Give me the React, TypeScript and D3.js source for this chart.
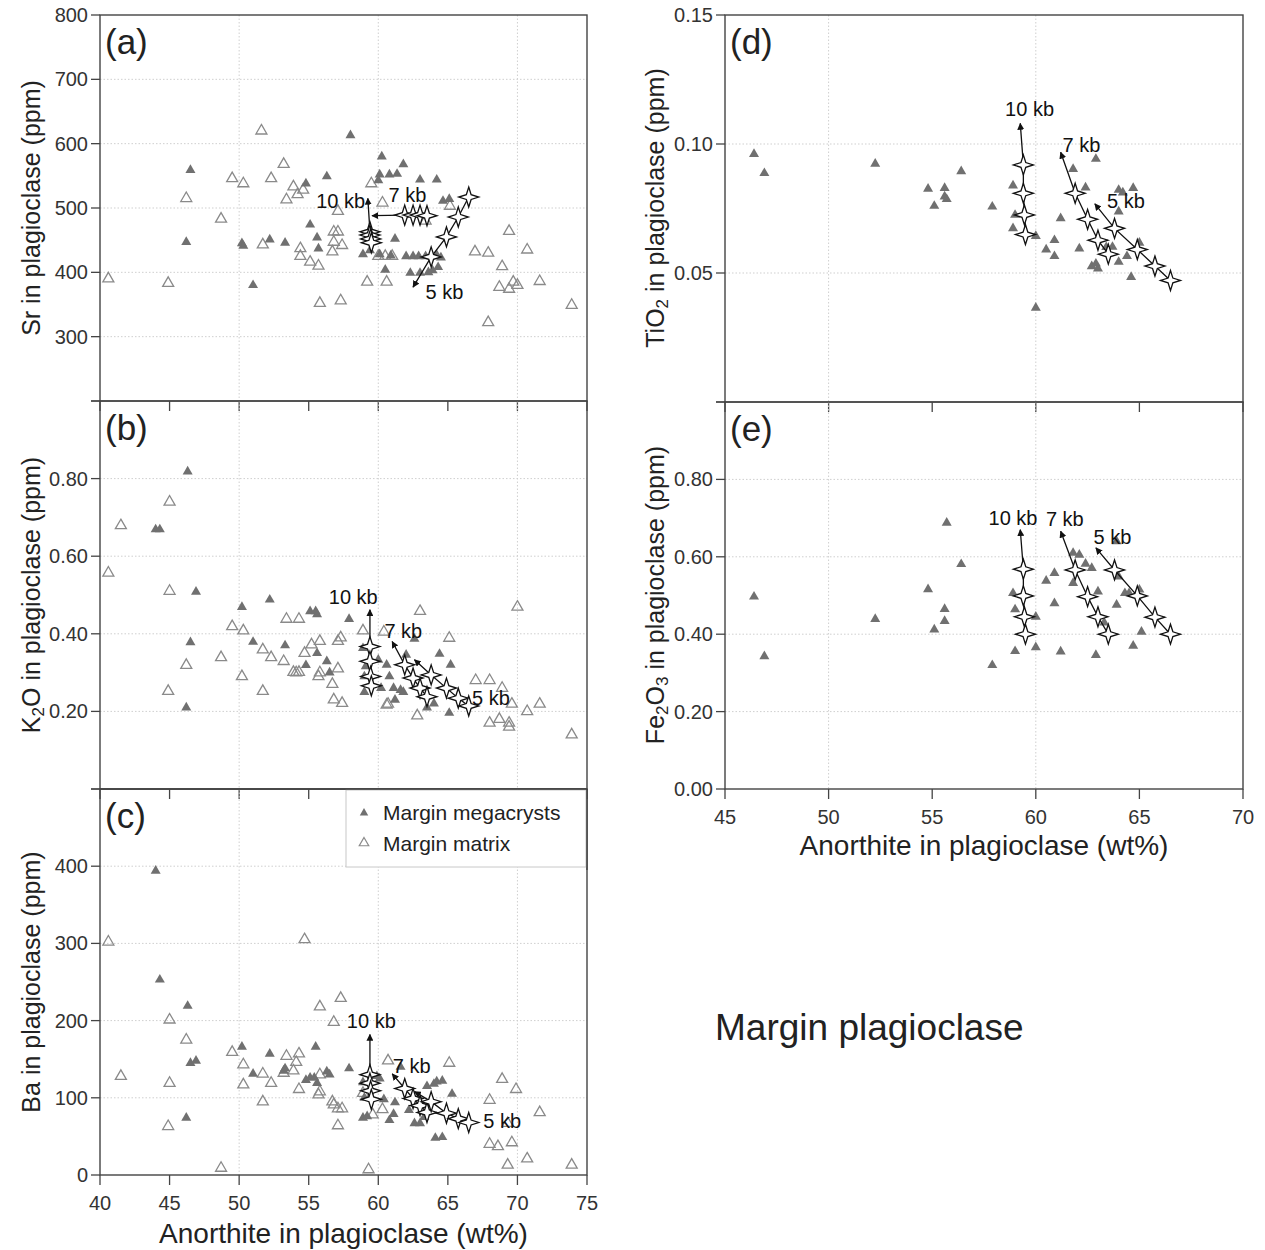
import React from 'react';
import * as d3 from 'd3';

type Pt = [number, number];

// ---------- data (Anorthite wt%, value) ----------
const srMegacrysts: Pt[] = [[46.5,559],[46.2,447],[51.0,380],[50.2,445],[50.3,441],[52.2,451],[53.3,446],[54.8,538],[56.3,549],[55.1,474],[55.6,454],[55.7,437],[58.0,613],[58.9,428],[59.4,434],[60.25,580],[60.1,552],[60.0,543],[60.8,552],[61.35,553],[61.8,568],[63.0,544],[64.2,544],[64.65,511],[65.1,514],[61.2,452],[60.5,404],[60.1,428],[60.9,426],[62.0,425],[62.5,425],[62.9,425],[63.4,425],[62.3,399],[63.0,399],[63.6,400],[63.9,403],[64.3,408],[64.5,423],[64.2,427]];
const srMatrix: Pt[] = [[40.6,390],[44.9,383],[46.2,515],[48.7,483],[49.5,546],[50.3,538],[51.6,620],[51.7,443],[53.2,568],[52.3,546],[53.9,533],[53.4,513],[54.2,521],[54.6,528],[54.4,437],[54.4,425],[55.1,416],[55.7,410],[55.8,352],[57.3,356],[56.8,463],[57.1,463],[57.1,495],[56.8,447],[57.4,442],[56.7,432],[59.5,538],[60.3,508],[59.2,385],[60.6,385],[60.0,425],[60.5,425],[61.0,425],[63.4,480],[65.15,503],[66.95,432],[67.9,430],[67.9,322],[68.9,409],[69.4,464],[68.7,377],[69.4,374],[69.7,385],[70.0,380],[70.7,435],[71.6,386],[73.9,349]];

const k2oMegacrysts: Pt[] = [[46.3,0.818],[44.0,0.669],[44.3,0.669],[46.9,0.508],[46.5,0.378],[46.2,0.21],[50.2,0.469],[51.0,0.379],[52.2,0.488],[53.3,0.370],[54.8,0.319],[55.1,0.458],[55.5,0.458],[55.6,0.45],[55.6,0.35],[56.3,0.329],[56.5,0.30],[57.9,0.438],[58.9,0.363],[59.1,0.316],[59.0,0.29],[60.0,0.333],[60.6,0.32],[60.2,0.26],[61.1,0.26],[61.6,0.255],[60.8,0.29],[62.6,0.387],[64.4,0.348],[65.2,0.32],[65.1,0.196],[63.5,0.21],[64.0,0.22],[61.2,0.23],[62.0,0.346],[61.8,0.25],[59.0,0.25]];
const k2oMatrix: Pt[] = [[40.6,0.557],[41.5,0.679],[45.0,0.740],[45.0,0.510],[46.2,0.319],[44.9,0.252],[48.7,0.339],[49.5,0.419],[50.3,0.408],[50.2,0.290],[51.7,0.252],[51.7,0.359],[52.3,0.339],[53.2,0.329],[53.4,0.438],[54.3,0.438],[53.9,0.301],[54.3,0.301],[54.1,0.30],[54.7,0.350],[55.2,0.372],[55.8,0.381],[55.8,0.30],[55.7,0.29],[56.7,0.270],[56.8,0.230],[57.4,0.221],[57.1,0.310],[57.1,0.381],[57.3,0.39],[58.9,0.408],[60.4,0.405],[60.7,0.219],[63.0,0.458],[62.8,0.189],[65.1,0.389],[67.0,0.280],[68.0,0.280],[68.9,0.26],[68.0,0.17],[68.7,0.18],[69.4,0.17],[69.4,0.16],[69.6,0.219],[70.0,0.469],[70.7,0.20],[71.6,0.219],[73.9,0.14],[60.6,0.217]];

const baMegacrysts: Pt[] = [[44.0,394],[44.3,253],[46.3,219],[46.5,145],[46.9,148],[46.2,74],[50.2,166],[51.0,131],[52.2,157],[53.2,135],[53.3,138],[54.8,123],[55.1,126],[55.4,126],[55.6,119],[55.5,166],[56.3,134],[56.5,130],[57.9,138],[58.9,74],[59.2,76],[60.8,71],[61.1,79],[61.2,94],[60.4,98],[64.1,48],[64.6,49],[65.3,105],[63.5,115],[64.0,118],[64.2,121],[64.6,122],[62.6,67],[63.0,67],[60.1,125],[59.9,128],[61.6,140],[62.2,84],[63.3,75],[58.9,120],[59.0,100]];
const baMatrix: Pt[] = [[40.6,302],[41.5,128],[45.0,201],[46.2,175],[45.0,119],[44.9,63],[48.7,9],[49.5,159],[50.3,143],[50.3,117],[51.7,131],[51.7,95],[52.3,119],[53.4,154],[54.3,157],[54.1,146],[53.9,135],[53.2,132],[54.3,111],[54.7,305],[55.8,218],[57.3,229],[56.8,198],[55.8,130],[55.8,108],[55.7,104],[56.7,95],[56.8,91],[57.1,86],[57.4,86],[57.1,64],[59.3,7],[60.7,148],[65.1,145],[59.6,78],[60.3,85],[68.9,124],[68.0,97],[69.9,111],[71.6,81],[68.0,40],[68.6,37],[69.6,42],[69.3,13],[70.7,21],[73.9,13],[69.3,67],[58.9,106]];

const tio2Megacrysts: Pt[] = [[46.4,0.0961],[46.9,0.0887],[52.25,0.0923],[54.8,0.0826],[55.6,0.0829],[55.1,0.0760],[55.6,0.0796],[55.7,0.0786],[56.4,0.0894],[57.9,0.0757],[58.9,0.0839],[59.0,0.0725],[58.9,0.0673],[60.0,0.0643],[60.0,0.0365],[60.5,0.0591],[60.9,0.0627],[60.9,0.0565],[61.2,0.0712],[61.8,0.0903],[62.1,0.0595],[62.9,0.0942],[62.4,0.0831],[62.7,0.0526],[62.9,0.0536],[63.0,0.0517],[63.7,0.0601],[64.0,0.0543],[64.0,0.0822],[64.2,0.0812],[64.7,0.0829],[64.0,0.0738],[64.4,0.0565],[64.6,0.0484],[65.0,0.0617],[63.4,0.0600]];

const fe2o3Megacrysts: Pt[] = [[46.4,0.497],[46.9,0.343],[52.25,0.439],[54.8,0.516],[55.1,0.412],[55.6,0.465],[55.6,0.434],[55.7,0.688],[56.4,0.581],[57.9,0.32],[58.9,0.506],[59.0,0.464],[59.0,0.356],[60.0,0.445],[60.0,0.366],[60.5,0.538],[60.9,0.558],[60.9,0.48],[61.2,0.355],[61.8,0.61],[62.1,0.605],[61.8,0.532],[62.4,0.582],[62.7,0.571],[63.0,0.51],[62.9,0.346],[63.3,0.43],[63.9,0.64],[63.9,0.476],[64.0,0.549],[64.3,0.506],[64.5,0.506],[64.7,0.37],[65.1,0.406],[65.0,0.515]];

// model paths (An of the four steps per pressure)
const an10kb = [59.4, 59.4, 59.45, 59.5];
const an7kb = [61.9, 62.5, 63.0, 63.5];
const an5kb = [63.8, 64.9, 65.75, 66.5];

const sr10kb = [463, 458, 452, 446];
const sr7kb = [489, 489, 489, 488];
const sr5kb = [424, 455, 486, 517];
const k2o10kb = [0.367, 0.329, 0.29, 0.266];
const k2o7kb = [0.32, 0.286, 0.26, 0.238];
const k2o5kb = [0.294, 0.26, 0.234, 0.214];
const ba10kb = [130, 119, 109, 98];
const ba7kb = [112, 99, 90, 81];
const ba5kb = [95, 80, 73, 68];
const tio210kb = [0.0919, 0.0809, 0.0725, 0.0649];
const tio27kb = [0.0809, 0.0708, 0.0627, 0.0573];
const tio25kb = [0.0673, 0.0591, 0.0527, 0.0471];
const fe2o310kb = [0.568, 0.499, 0.445, 0.40];
const fe2o37kb = [0.566, 0.497, 0.445, 0.40];
const fe2o35kb = [0.566, 0.499, 0.444, 0.40];

// arrow tips and label anchors per panel [10kb, 7kb, 5kb]
const srTips: Pt[] = [[59.25, 515], [59.55, 488], [62.5, 377]];
const srLabels: Pt[] = [[57.3, 511], [62.1, 520], [64.75, 370]];
const k2oTips: Pt[] = [[59.4, 0.462], [61.0, 0.38], [62.6, 0.333]];
const k2oLabels: Pt[] = [[58.2, 0.495], [61.8, 0.407], [68.1, 0.235]];
const baTips: Pt[] = [[59.4, 182], [61.0, 131], [62.6, 108]];
const baLabels: Pt[] = [[59.5, 199], [62.4, 141], [68.9, 70]];
const tio2Tips: Pt[] = [[59.25, 0.108], [61.2, 0.0968], [62.85, 0.0768]];
const tio2Labels: Pt[] = [[59.7, 0.1135], [62.2, 0.0998], [64.35, 0.078]];
const fe2o3Tips: Pt[] = [[59.25, 0.67], [61.2, 0.666], [62.9, 0.623]];
const fe2o3Labels: Pt[] = [[58.9, 0.70], [61.4, 0.697], [63.7, 0.65]];

const pressureNames = ['10 kb', '7 kb', '5 kb'];

const leftXTicks = [40, 45, 50, 55, 60, 65, 70, 75];
const rightXTicks = [45, 50, 55, 60, 65, 70];
const leftGridX = [50, 60, 70];
const rightGridX = [50, 60];

const srTicks = [300, 400, 500, 600, 700, 800];
const k2oTicks = [0.2, 0.4, 0.6, 0.8];
const baTicks = [0, 100, 200, 300, 400];
const tio2Ticks = [0.05, 0.10, 0.15];
const fe2o3Ticks = [0, 0.2, 0.4, 0.6, 0.8];

const legendNames = ['Margin megacrysts', 'Margin matrix'];

// ---------- rendering ----------
const FONT = '"Liberation Sans", Arial, Helvetica, sans-serif';
const FILL_GRAY = '#707070';
const OPEN_GRAY = '#8a8a8a';
const AXIS = '#444';
const TICK_FS = 20;

function triPath(s: number) {
  const h = (s * Math.sqrt(3)) / 2;
  return `M0,${(-h * 2) / 3}L${s / 2},${h / 3}L${-s / 2},${h / 3}Z`;
}
function starPath(R: number, r: number) {
  let p = '';
  for (let i = 0; i < 8; i++) {
    const a = (i * Math.PI) / 4 - Math.PI / 2;
    const rad = i % 2 === 0 ? R : r;
    p += (i ? 'L' : 'M') + (rad * Math.cos(a)).toFixed(2) + ',' + (rad * Math.sin(a)).toFixed(2);
  }
  return p + 'Z';
}
const FILLED_TRI = triPath(10);
const OPEN_TRI = triPath(11);
const STAR = starPath(10, 3.4);

type Track = { an: number[]; vals: number[]; tip: Pt; label: Pt; name: string };

function makeTracks(vals: number[][], tips: Pt[], labels: Pt[]): Track[] {
  const ans = [an10kb, an7kb, an5kb];
  return vals.map((v, i) => ({ an: ans[i], vals: v, tip: tips[i], label: labels[i], name: pressureNames[i] }));
}

type PanelProps = {
  x0: number; x1: number; y0: number; y1: number;
  xDomain: [number, number]; yDomain: [number, number];
  xTicks: number[]; showXLabels: boolean; gridX: number[];
  yTicks: number[]; yLabels: number[]; yFmt: (v: number) => string;
  letter: string;
  mega: Pt[]; matrix?: Pt[]; tracks: Track[];
};

function Panel(p: PanelProps) {
  const x = d3.scaleLinear().domain(p.xDomain).range([p.x0, p.x1]);
  const y = d3.scaleLinear().domain(p.yDomain).range([p.y1, p.y0]);
  const line = d3.line<Pt>().x((d) => x(d[0])).y((d) => y(d[1]));
  const clipId = 'clip' + p.letter;
  return (
    <g>
      <defs>
        <clipPath id={clipId}>
          <rect x={p.x0} y={p.y0} width={p.x1 - p.x0} height={p.y1 - p.y0} />
        </clipPath>
      </defs>
      {p.gridX.map((v) => (
        <line key={'gx' + v} x1={x(v)} x2={x(v)} y1={p.y0} y2={p.y1} stroke="#cfcfcf" strokeWidth={1} strokeDasharray="1.5,2" />
      ))}
      {p.yLabels.filter((v) => v > p.yDomain[0] && v < p.yDomain[1]).map((v) => (
        <line key={'gy' + v} x1={p.x0} x2={p.x1} y1={y(v)} y2={y(v)} stroke="#cfcfcf" strokeWidth={1} strokeDasharray="1.5,2" />
      ))}
      <g clipPath={`url(#${clipId})`}>
        {(p.matrix || []).map((d, i) => (
          <path key={'o' + i} d={OPEN_TRI} transform={`translate(${x(d[0])},${y(d[1])})`} fill="none" stroke={OPEN_GRAY} strokeWidth={1.3} />
        ))}
        {p.mega.map((d, i) => (
          <path key={'f' + i} d={FILLED_TRI} transform={`translate(${x(d[0])},${y(d[1])})`} fill={FILL_GRAY} />
        ))}
        {p.tracks.map((t, i) => {
          const pts: Pt[] = t.an.map((a, j) => [a, t.vals[j]] as Pt).reverse();
          pts.push(t.tip);
          return (
            <g key={'t' + i}>
              <path d={line(pts) || ''} fill="none" stroke="#111" strokeWidth={1.3} markerEnd="url(#arrowHead)" />
              {t.an.map((a, j) => (
                <path key={j} d={STAR} transform={`translate(${x(a)},${y(t.vals[j])})`} fill="#fff" stroke="#111" strokeWidth={1.3} />
              ))}
            </g>
          );
        })}
        {p.tracks.map((t, i) => (
          <text key={'l' + i} x={x(t.label[0])} y={y(t.label[1])} fontSize={20} fill="#111" textAnchor="middle" dominantBaseline="central">{t.name}</text>
        ))}
      </g>
      <rect x={p.x0} y={p.y0} width={p.x1 - p.x0} height={p.y1 - p.y0} fill="none" stroke={AXIS} strokeWidth={1.4} />
      {p.yTicks.map((v) => (
        <line key={'yt' + v} x1={p.x0 - 9} x2={p.x0} y1={y(v)} y2={y(v)} stroke={AXIS} strokeWidth={1.3} />
      ))}
      {p.yLabels.map((v) => (
        <text key={'yl' + v} x={p.x0 - 12} y={y(v)} fontSize={TICK_FS} fill="#333" textAnchor="end" dominantBaseline="central">{p.yFmt(v)}</text>
      ))}
      {p.xTicks.map((v) => (
        <line key={'xt' + v} x1={x(v)} x2={x(v)} y1={p.y1} y2={p.y1 + 10} stroke={AXIS} strokeWidth={1.3} />
      ))}
      {p.showXLabels && p.xTicks.map((v) => (
        <text key={'xl' + v} x={x(v)} y={p.y1 + 35} fontSize={TICK_FS} fill="#333" textAnchor="middle">{v}</text>
      ))}
      <text x={p.x0 + 5} y={p.y0 + 39} fontSize={35} fill="#222">{'(' + p.letter + ')'}</text>
    </g>
  );
}

function YTitle({ x, y, parts }: { x: number; y: number; parts: [string, boolean][] }) {
  return (
    <text transform={`translate(${x},${y}) rotate(-90)`} textAnchor="middle" fontSize={25} fill="#222">
      {parts.map(([s, sub], i) => (
        <tspan key={i} fontSize={sub ? 17 : 25} dy={sub ? 4 : i > 0 && parts[i - 1][1] ? -4 : 0}>{s}</tspan>
      ))}
    </text>
  );
}

export default function App() {
  const L = { x0: 100, x1: 587 };
  const R = { x0: 725, x1: 1243 };
  const fmt0 = (v: number) => String(v);
  const fmt2 = (v: number) => v.toFixed(2);
  const legendX = 346;
  return (
    <svg width={1265} height={1250} style={{ position: 'absolute', left: 0, top: 0, display: 'block', fontFamily: FONT, background: '#fff' }}>
      <defs>
        <marker id="arrowHead" viewBox="0 0 10 10" refX="9" refY="5" markerWidth="7" markerHeight="7" markerUnits="userSpaceOnUse" orient="auto">
          <path d="M0,0L10,5L0,10Z" fill="#111" />
        </marker>
      </defs>
      <rect x={0} y={0} width={1265} height={1250} fill="#fff" />
      <Panel {...L} y0={15} y1={401} xDomain={[40, 75]} yDomain={[200, 800]} xTicks={leftXTicks} showXLabels={false} gridX={leftGridX}
        yTicks={[200, ...srTicks]} yLabels={srTicks} yFmt={fmt0} letter="a" mega={srMegacrysts} matrix={srMatrix}
        tracks={makeTracks([sr10kb, sr7kb, sr5kb], srTips, srLabels)} />
      <Panel {...L} y0={401} y1={789} xDomain={[40, 75]} yDomain={[0, 1.0]} xTicks={leftXTicks} showXLabels={false} gridX={leftGridX}
        yTicks={[0, ...k2oTicks, 1.0]} yLabels={k2oTicks} yFmt={fmt2} letter="b" mega={k2oMegacrysts} matrix={k2oMatrix}
        tracks={makeTracks([k2o10kb, k2o7kb, k2o5kb], k2oTips, k2oLabels)} />
      <Panel {...L} y0={789} y1={1175} xDomain={[40, 75]} yDomain={[0, 500]} xTicks={leftXTicks} showXLabels={true} gridX={leftGridX}
        yTicks={[...baTicks, 500]} yLabels={baTicks} yFmt={fmt0} letter="c" mega={baMegacrysts} matrix={baMatrix}
        tracks={makeTracks([ba10kb, ba7kb, ba5kb], baTips, baLabels)} />
      <Panel {...R} y0={15} y1={402} xDomain={[45, 70]} yDomain={[0, 0.15]} xTicks={rightXTicks} showXLabels={false} gridX={rightGridX}
        yTicks={[0, ...tio2Ticks]} yLabels={tio2Ticks} yFmt={fmt2} letter="d" mega={tio2Megacrysts}
        tracks={makeTracks([tio210kb, tio27kb, tio25kb], tio2Tips, tio2Labels)} />
      <Panel {...R} y0={402} y1={789} xDomain={[45, 70]} yDomain={[0, 1.0]} xTicks={rightXTicks} showXLabels={true} gridX={rightGridX}
        yTicks={[...fe2o3Ticks, 1.0]} yLabels={fe2o3Ticks} yFmt={fmt2} letter="e" mega={fe2o3Megacrysts}
        tracks={makeTracks([fe2o310kb, fe2o37kb, fe2o35kb], fe2o3Tips, fe2o3Labels)} />

      {/* legend */}
      <rect x={legendX} y={790} width={L.x1 - legendX - 1} height={77} fill="#fff" stroke="#c8c8c8" strokeWidth={1} />
      <line x1={L.x0} x2={L.x1} y1={789} y2={789} stroke={AXIS} strokeWidth={1.4} />
      <line x1={L.x1} x2={L.x1} y1={789} y2={870} stroke={AXIS} strokeWidth={1.4} />
      <path d={triPath(8.5)} transform="translate(364,813)" fill={FILL_GRAY} />
      <text x={383} y={820} fontSize={21} fill="#222">{legendNames[0]}</text>
      <path d={triPath(9.5)} transform="translate(364,843)" fill="none" stroke={OPEN_GRAY} strokeWidth={1.2} />
      <text x={383} y={851} fontSize={21} fill="#222">{legendNames[1]}</text>

      {/* axis titles */}
      <text x={(L.x0 + L.x1) / 2} y={1243} fontSize={28} fill="#222" textAnchor="middle">Anorthite in plagioclase (wt%)</text>
      <text x={(R.x0 + R.x1) / 2} y={855} fontSize={28} fill="#222" textAnchor="middle">Anorthite in plagioclase (wt%)</text>
      <YTitle x={40} y={208} parts={[['Sr in plagioclase (ppm)', false]]} />
      <YTitle x={40} y={595} parts={[['K', false], ['2', true], ['O in plagioclase (ppm)', false]]} />
      <YTitle x={40} y={982} parts={[['Ba in plagioclase (ppm)', false]]} />
      <YTitle x={664} y={208} parts={[['TiO', false], ['2', true], [' in plagioclase (ppm)', false]]} />
      <YTitle x={664} y={595} parts={[['Fe', false], ['2', true], ['O', false], ['3', true], [' in plagioclase (ppm)', false]]} />

      <text x={715} y={1040} fontSize={37} fill="#222">Margin plagioclase</text>
    </svg>
  );
}
